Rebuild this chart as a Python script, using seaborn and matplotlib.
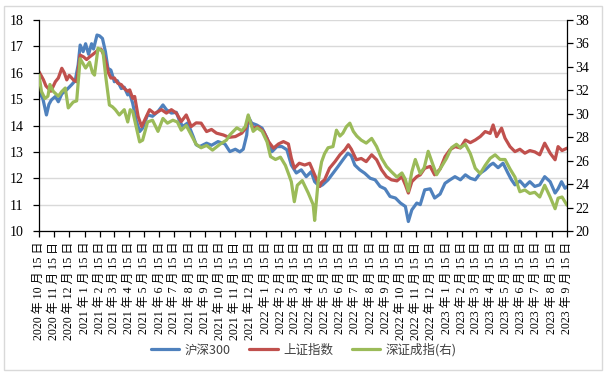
import matplotlib
matplotlib.use("Agg")
import matplotlib.pyplot as plt
import seaborn as sns
import pandas as pd
from matplotlib.patches import Rectangle
from matplotlib.font_manager import FontProperties

# ---------------- data ----------------
hs300_dates = ['2020-10-15','2020-10-23','2020-10-30','2020-11-04','2020-11-09','2020-11-17','2020-11-23','2020-11-30','2020-12-07','2020-12-20','2020-12-27','2021-01-02','2021-01-06','2021-01-12','2021-01-17','2021-01-23','2021-01-29','2021-02-02','2021-02-09','2021-02-14','2021-02-20','2021-02-26','2021-03-03','2021-03-09','2021-03-16','2021-03-22','2021-03-30','2021-04-05','2021-04-12','2021-04-16','2021-04-22','2021-04-29','2021-05-06','2021-05-12','2021-05-22','2021-06-01','2021-06-12','2021-06-22','2021-06-29','2021-07-09','2021-07-19','2021-07-26','2021-08-01','2021-08-11','2021-08-22','2021-08-28','2021-09-04','2021-09-18','2021-09-28','2021-10-11','2021-10-25','2021-11-04','2021-11-15','2021-11-24','2021-12-01','2021-12-08','2021-12-11','2021-12-18','2021-12-28','2022-01-08','2022-01-18','2022-01-28','2022-02-07','2022-02-17','2022-02-27','2022-03-08','2022-03-18','2022-03-28','2022-04-07','2022-04-17','2022-04-24','2022-05-04','2022-05-10','2022-05-21','2022-05-31','2022-06-10','2022-06-20','2022-06-30','2022-07-07','2022-07-14','2022-07-24','2022-08-03','2022-08-14','2022-08-24','2022-09-03','2022-09-13','2022-09-23','2022-10-04','2022-10-14','2022-10-24','2022-10-30','2022-11-06','2022-11-16','2022-11-23','2022-12-02','2022-12-13','2022-12-22','2023-01-02','2023-01-12','2023-01-22','2023-02-01','2023-02-12','2023-02-22','2023-03-04','2023-03-14','2023-03-24','2023-04-03','2023-04-13','2023-04-19','2023-04-29','2023-05-09','2023-05-19','2023-05-26','2023-06-02','2023-06-12','2023-06-22','2023-07-02','2023-07-12','2023-07-22','2023-08-01','2023-08-12','2023-08-22','2023-08-28','2023-09-04','2023-09-11','2023-09-15']
hs300_values = [15.3,15.0,14.4,14.8,14.97,15.1,14.9,15.2,15.3,15.55,15.7,16.3,17.05,16.8,17.1,16.7,17.1,16.9,17.43,17.4,17.3,16.8,16.17,16.1,15.66,15.7,15.4,15.45,15.16,15.22,14.84,14.2,13.77,13.9,14.4,14.35,14.53,14.78,14.6,14.47,14.5,14.15,13.96,14.1,13.58,13.27,13.2,13.33,13.25,13.39,13.3,13.01,13.1,13.0,13.1,13.64,14.34,14.09,14.02,13.9,13.52,13.01,13.2,13.2,13.08,12.5,12.2,12.32,12.06,12.25,11.87,11.69,11.75,11.94,12.19,12.44,12.7,12.95,12.85,12.5,12.32,12.19,12.0,11.94,11.69,11.6,11.31,11.25,11.06,10.93,10.36,10.8,11.06,11.0,11.56,11.6,11.25,11.4,11.81,11.94,12.06,11.94,12.13,12.0,11.94,12.19,12.32,12.5,12.57,12.4,12.57,12.19,11.94,11.75,11.9,11.69,11.87,11.69,11.75,12.06,11.87,11.44,11.6,11.87,11.62,11.68]

sh_dates = ['2020-10-15','2020-10-24','2020-10-29','2020-11-03','2020-11-08','2020-11-17','2020-11-23','2020-11-30','2020-12-05','2020-12-10','2020-12-15','2020-12-20','2020-12-25','2020-12-30','2021-01-06','2021-01-13','2021-01-19','2021-01-25','2021-02-01','2021-02-11','2021-02-17','2021-02-22','2021-02-27','2021-03-04','2021-03-09','2021-03-16','2021-03-23','2021-03-30','2021-04-05','2021-04-12','2021-04-16','2021-04-22','2021-04-26','2021-05-03','2021-05-10','2021-05-16','2021-05-26','2021-06-05','2021-06-19','2021-06-29','2021-07-09','2021-07-19','2021-07-29','2021-08-08','2021-08-18','2021-08-28','2021-09-07','2021-09-18','2021-09-28','2021-10-08','2021-10-22','2021-11-02','2021-11-15','2021-11-28','2021-12-06','2021-12-11','2021-12-21','2021-12-31','2022-01-11','2022-01-21','2022-01-31','2022-02-10','2022-02-20','2022-03-02','2022-03-08','2022-03-14','2022-03-24','2022-04-04','2022-04-14','2022-04-24','2022-05-04','2022-05-08','2022-05-14','2022-05-24','2022-06-04','2022-06-14','2022-06-24','2022-07-01','2022-07-07','2022-07-17','2022-07-27','2022-08-06','2022-08-17','2022-08-27','2022-09-06','2022-09-16','2022-09-26','2022-10-07','2022-10-17','2022-10-24','2022-10-30','2022-11-06','2022-11-16','2022-11-23','2022-12-02','2022-12-13','2022-12-22','2023-01-02','2023-01-12','2023-01-22','2023-02-01','2023-02-12','2023-02-22','2023-03-04','2023-03-14','2023-03-24','2023-04-03','2023-04-13','2023-04-19','2023-04-26','2023-05-06','2023-05-13','2023-05-23','2023-06-02','2023-06-12','2023-06-22','2023-07-02','2023-07-12','2023-07-22','2023-08-01','2023-08-12','2023-08-22','2023-08-28','2023-09-05','2023-09-15']
sh_values = [16.04,15.73,15.5,15.4,15.3,15.66,15.8,16.17,16.0,15.73,15.9,15.8,15.7,15.66,16.67,16.6,16.5,16.6,16.7,16.86,16.9,16.7,16.4,16.0,15.8,15.8,15.6,15.55,15.4,15.3,15.35,15.03,15.1,14.34,13.96,14.2,14.6,14.45,14.6,14.47,14.6,14.47,14.15,14.4,13.96,14.1,14.09,13.77,13.85,13.71,13.64,13.55,13.58,13.71,13.9,14.28,13.9,13.95,13.77,13.39,13.14,13.3,13.39,13.3,12.76,12.38,12.57,12.5,12.57,12.13,11.69,11.85,11.94,12.38,12.63,12.89,13.08,13.27,13.1,12.7,12.75,12.63,12.89,12.7,12.32,12.06,11.94,11.9,12.06,11.75,11.44,11.87,12.06,12.13,12.38,12.45,12.13,12.35,12.82,13.08,13.2,13.15,13.45,13.35,13.45,13.58,13.77,13.7,14.02,13.58,13.9,13.52,13.2,13.01,13.1,12.95,13.05,13.0,12.89,13.33,12.95,12.7,13.2,13.05,13.14]

sz_dates = ['2020-10-15','2020-10-20','2020-10-27','2020-11-02','2020-11-06','2020-11-13','2020-11-23','2020-11-30','2020-12-07','2020-12-13','2020-12-23','2020-12-30','2021-01-06','2021-01-17','2021-01-25','2021-01-31','2021-02-04','2021-02-11','2021-02-21','2021-02-27','2021-03-06','2021-03-12','2021-03-18','2021-03-26','2021-04-05','2021-04-12','2021-04-17','2021-04-22','2021-04-29','2021-05-06','2021-05-12','2021-05-22','2021-06-01','2021-06-12','2021-06-22','2021-07-01','2021-07-12','2021-07-21','2021-07-29','2021-08-08','2021-08-18','2021-08-28','2021-09-07','2021-09-18','2021-09-30','2021-10-15','2021-10-28','2021-11-04','2021-11-18','2021-11-28','2021-12-05','2021-12-11','2021-12-21','2021-12-29','2022-01-08','2022-01-18','2022-01-25','2022-02-04','2022-02-14','2022-02-24','2022-03-03','2022-03-08','2022-03-14','2022-03-20','2022-03-30','2022-04-11','2022-04-21','2022-04-24','2022-05-01','2022-05-08','2022-05-14','2022-05-21','2022-05-31','2022-06-07','2022-06-14','2022-06-20','2022-06-27','2022-07-04','2022-07-11','2022-07-18','2022-07-27','2022-08-06','2022-08-17','2022-08-27','2022-09-06','2022-09-16','2022-09-26','2022-10-07','2022-10-17','2022-10-24','2022-10-30','2022-11-06','2022-11-13','2022-11-23','2022-12-01','2022-12-09','2022-12-19','2022-12-26','2023-01-05','2023-01-15','2023-01-25','2023-02-04','2023-02-12','2023-02-22','2023-03-04','2023-03-14','2023-03-24','2023-04-03','2023-04-13','2023-04-23','2023-05-03','2023-05-13','2023-05-23','2023-06-02','2023-06-12','2023-06-22','2023-07-02','2023-07-12','2023-07-22','2023-08-01','2023-08-12','2023-08-22','2023-08-28','2023-09-05','2023-09-15']
sz_values = [33.3,31.9,31.3,31.5,32.5,31.9,31.5,31.9,32.2,30.5,31.0,31.1,34.7,33.9,34.4,33.5,33.3,35.6,35.3,33.05,30.75,30.6,30.35,29.9,30.35,29.3,30.35,30.2,28.9,27.6,27.75,29.3,29.45,28.5,29.6,29.2,29.45,29.3,28.6,29.0,28.2,27.4,27.1,27.3,26.9,27.4,27.75,28.2,28.8,28.55,28.9,29.9,28.5,28.8,28.5,27.6,26.35,26.1,26.3,25.6,24.8,24.2,22.5,23.9,24.3,23.25,22.25,20.9,24.2,25.9,26.6,27.1,27.2,28.6,28.1,28.35,28.9,29.2,28.5,28.1,27.75,27.5,27.9,27.2,26.2,25.5,25.05,24.6,24.95,24.4,23.4,25.05,26.1,24.9,25.4,26.8,25.6,24.8,25.5,26.2,27.1,27.4,27.1,27.4,26.6,25.35,24.9,25.6,26.2,26.5,26.1,26.1,25.3,24.6,23.35,23.5,23.2,23.3,22.9,23.9,22.9,21.9,22.8,22.9,22.2]

series_names = ['沪深300', '上证指数', '深证成指(右)']
series_colors = ['#4F81BD', '#C0504D', '#9BBB59']

tick_dates = pd.date_range('2020-10-01', '2023-09-01', freq='MS') + pd.Timedelta(days=14)
tick_labels = [f"{d.year} 年 {d.month} 月 {d.day} 日" for d in tick_dates]
left_ticks = list(range(10, 19))
right_ticks = list(range(20, 39, 2))

# ---------------- plot ----------------
sns.set_theme(style="white")
plt.rcParams['font.family'] = ['Liberation Serif', 'Noto Sans CJK SC', 'DejaVu Sans']

fig = plt.figure(figsize=(6.07, 3.76), dpi=100)
W, H = 607, 376
ax = fig.add_axes([39 / W, 1 - 231 / H, (567 - 39) / W, (231 - 20) / H])
ax2 = ax.twinx()

df_hs = pd.DataFrame({'date': pd.to_datetime(hs300_dates), 'v': hs300_values})
df_sh = pd.DataFrame({'date': pd.to_datetime(sh_dates), 'v': sh_values})
df_sz = pd.DataFrame({'date': pd.to_datetime(sz_dates), 'v': sz_values})

lw = 2.3
sns.lineplot(data=df_hs, x='date', y='v', ax=ax, color=series_colors[0], linewidth=lw, legend=False)
sns.lineplot(data=df_sh, x='date', y='v', ax=ax, color=series_colors[1], linewidth=lw, legend=False)
sns.lineplot(data=df_sz, x='date', y='v', ax=ax2, color=series_colors[2], linewidth=lw, legend=False)

ax.set_xlim(pd.Timestamp('2020-10-15'), pd.Timestamp('2023-09-15'))
ax.set_ylim(10, 18)
ax2.set_ylim(20, 38)
ax.set_yticks(left_ticks)
ax2.set_yticks(right_ticks)
ax.set_xticks(tick_dates)
ax.set_xticklabels(tick_labels, rotation=90, rotation_mode='default')

xfont = FontProperties(family=['Liberation Serif', 'Noto Sans CJK SC'], size=8.6)
yfont = FontProperties(family=['Liberation Serif'], size=10)
for lab in ax.get_xticklabels():
    lab.set_fontproperties(xfont)
for lab in ax.get_yticklabels():
    lab.set_fontproperties(yfont)
for lab in ax2.get_yticklabels():
    lab.set_fontproperties(yfont)

ax.set_xlabel('')
ax.set_ylabel('')
ax2.set_ylabel('')

ax.yaxis.grid(True, color='#d9d9d9', linewidth=1.0)
ax.xaxis.grid(False)
ax2.grid(False)
ax.set_axisbelow(True)

for a in (ax, ax2):
    a.spines['top'].set_visible(False)
    for s in ('left', 'bottom', 'right'):
        a.spines[s].set_color('#000000')
        a.spines[s].set_linewidth(0.9)
ax.spines['right'].set_visible(False)
ax2.spines['left'].set_visible(False)
ax2.spines['bottom'].set_visible(False)

ax.tick_params(axis='y', left=True, direction='out', length=4, width=0.9, color='black', pad=7, labelcolor='black')
ax.tick_params(axis='x', bottom=True, direction='out', length=4, width=0.9, color='black', pad=4, labelcolor='black')
ax2.tick_params(axis='y', right=True, direction='out', length=4, width=0.9, color='black', pad=2, labelcolor='black')

handles = [ax.lines[0], ax.lines[1], ax2.lines[0]]
fig.legend(handles, series_names, loc='center', bbox_to_anchor=(0.5, 1 - 350 / H), ncol=3,
           frameon=False, prop=FontProperties(family=['Noto Sans CJK SC'], size=9),
           handlelength=2.3, columnspacing=1.5, handletextpad=0.4, labelcolor='#404040')

fig.patches.append(Rectangle((4 / W, 6 / H), 598 / W, 364 / H, transform=fig.transFigure,
                             fill=False, edgecolor='#d9d9d9', linewidth=1.0))

fig.savefig('out.png', dpi=100)
